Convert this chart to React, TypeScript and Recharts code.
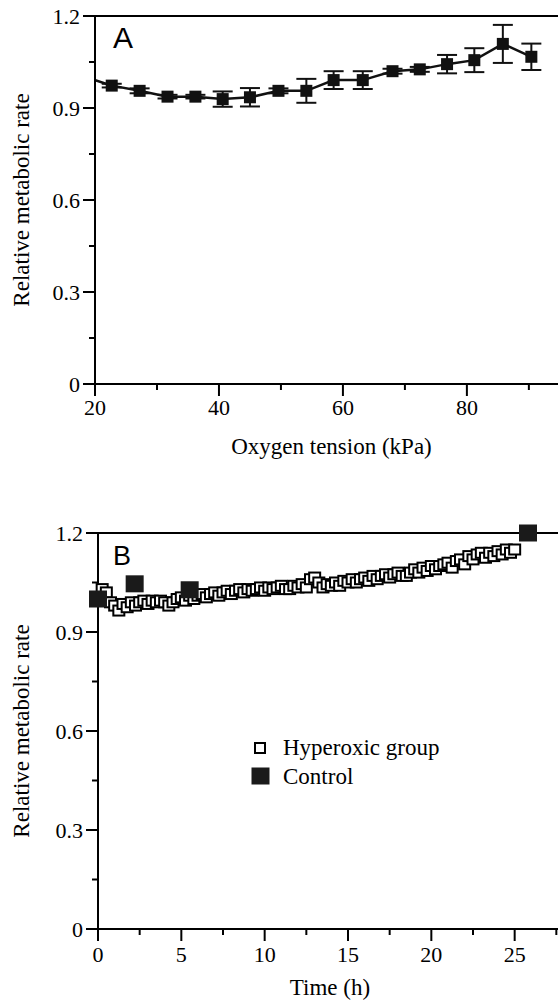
import {
  ComposedChart,
  ErrorBar,
  Legend,
  Line,
  ReferenceLine,
  Scatter,
  ScatterChart,
  XAxis,
  YAxis,
} from "recharts";

const serif = "Liberation Serif, Times New Roman, serif";
const sans = "Liberation Sans, Arial, sans-serif";

// Panel A: metabolic rate vs oxygen tension (first point lies left of the axis, clipped)
const oxygenKpa = [18.2, 22.7, 27.2, 31.7, 36.2, 40.6, 45.0, 49.6, 54.1, 58.5, 63.2, 68.0, 72.4, 76.8, 81.2, 85.8, 90.4];
const oxygenRate = [1.003, 0.973, 0.956, 0.937, 0.937, 0.929, 0.935, 0.956, 0.956, 0.991, 0.991, 1.02, 1.026, 1.043, 1.056, 1.109, 1.067];
const oxygenSem = [0, 0.006, 0.008, 0.006, 0.006, 0.025, 0.03, 0.008, 0.039, 0.029, 0.029, 0.008, 0.008, 0.03, 0.039, 0.062, 0.043];
const oxygenTicks = [20, 30, 40, 50, 60, 70, 80, 90];
const oxygenLabels = [20, 40, 60, 80];

// Panel B: metabolic rate vs time
const hyperHours = [
  0, 0.25, 0.5, 0.75, 1, 1.25, 1.5, 1.75, 2, 2.25, 2.5, 2.75, 3, 3.25, 3.5, 3.75, 4, 4.25, 4.5, 4.75,
  5, 5.25, 5.5, 5.75, 6, 6.25, 6.5, 6.75, 7, 7.25, 7.5, 7.75, 8, 8.25, 8.5, 8.75, 9, 9.25, 9.5, 9.75,
  10, 10.25, 10.5, 10.75, 11, 11.25, 11.5, 11.75, 12, 12.25, 12.5, 12.75, 13, 13.25, 13.5, 13.75, 14, 14.25, 14.5, 14.75,
  15, 15.25, 15.5, 15.75, 16, 16.25, 16.5, 16.75, 17, 17.25, 17.5, 17.75, 18, 18.25, 18.5, 18.75, 19, 19.25, 19.5, 19.75,
  20, 20.25, 20.5, 20.75, 21, 21.25, 21.5, 21.75, 22, 22.25, 22.5, 22.75, 23, 23.25, 23.5, 23.75, 24, 24.25, 24.5, 24.75, 25,
];
const hyperRate = [
  1.0, 1.03, 1.02, 0.99, 0.98, 0.965, 0.985, 0.975, 0.99, 0.98, 0.99, 0.995, 0.985, 0.995, 0.99, 0.995, 0.99, 0.98, 0.99, 1.0,
  1.005, 0.995, 1.01, 1.0, 1.01, 1.015, 1.005, 1.015, 1.02, 1.01, 1.02, 1.025, 1.015, 1.025, 1.03, 1.02, 1.03, 1.025, 1.03, 1.035,
  1.025, 1.035, 1.03, 1.035, 1.04, 1.03, 1.03, 1.04, 1.035, 1.045, 1.035, 1.06, 1.065, 1.05, 1.035, 1.045, 1.04, 1.05, 1.04, 1.055,
  1.05, 1.06, 1.05, 1.06, 1.065, 1.055, 1.07, 1.06, 1.07, 1.075, 1.065, 1.075, 1.08, 1.07, 1.07, 1.08, 1.09, 1.08, 1.095, 1.085,
  1.1, 1.09, 1.1, 1.105, 1.11, 1.095, 1.115, 1.12, 1.105, 1.13, 1.12, 1.135, 1.14, 1.125, 1.14, 1.13, 1.145, 1.135, 1.15, 1.14, 1.15,
];
const controlHours = [0, 2.2, 5.5, 25.8];
const controlRate = [1.0, 1.046, 1.028, 1.2];
const hoursTicks = [0, 2.5, 5, 7.5, 10, 12.5, 15, 17.5, 20, 22.5, 25, 27.5];
const hoursLabels = [0, 5, 10, 15, 20, 25];

const rateTicks = [0, 0.15, 0.3, 0.45, 0.6, 0.75, 0.9, 1.05, 1.2];
const rateLabels = [0, 0.3, 0.6, 0.9, 1.2];
const seriesNames = ["Hyperoxic group", "Control"];

const rowsA = oxygenKpa.map((kpa, i) => ({ kpa, rate: oxygenRate[i], sem: oxygenSem[i] }));
const hyperRows = hyperHours.map((t, i) => ({ t, rate: hyperRate[i] }));
const controlRows = controlHours.map((t, i) => ({ t, rate: controlRate[i] }));

const textStyle = { fontFamily: serif };

function BottomTick({ x, y, payload, labels, gap }: any) {
  const major = labels.includes(payload.value);
  return (
    <g>
      <line x1={x} x2={x} y1={y} y2={y + (major ? 12 : 6)} stroke="#000" strokeWidth={2} />
      {major ? (
        <text x={x} y={y + gap} textAnchor="middle" fontSize={22} style={textStyle} fill="#000">
          {payload.value}
        </text>
      ) : null}
    </g>
  );
}

function LeftTick({ x, y, payload }: any) {
  const major = rateLabels.includes(payload.value);
  return (
    <g>
      <line x1={x - (major ? 12 : 6)} x2={x} y1={y} y2={y} stroke="#000" strokeWidth={2} />
      {major ? (
        <text x={x - 15} y={y + 7.5} textAnchor="end" fontSize={22} style={textStyle} fill="#000">
          {payload.value}
        </text>
      ) : null}
    </g>
  );
}

const rateTitle = ({ viewBox }: any) => {
  const cy = viewBox.y + viewBox.height / 2;
  return (
    <text
      x={21}
      y={cy}
      transform={`rotate(-90, 21, ${cy})`}
      textAnchor="middle"
      dominantBaseline="central"
      fontSize={23}
      style={textStyle}
      fill="#000"
    >
      Relative metabolic rate
    </text>
  );
};

const axisLine = { stroke: "#000", strokeWidth: 2 };

function LegendBox() {
  return (
    <svg width={230} height={80} style={{ display: "block" }}>
      <rect x={5} y={13} width={10} height={10} fill="#fff" stroke="#000" strokeWidth={2} />
      <text x={33} y={25} fontSize={23} style={textStyle} fill="#000">
        {seriesNames[0]}
      </text>
      <rect x={1.5} y={37.5} width={18} height={17} fill="#1a1a1a" />
      <text x={33} y={54} fontSize={23} style={textStyle} fill="#000">
        {seriesNames[1]}
      </text>
    </svg>
  );
}

export default function App() {
  return (
    <div style={{ position: "absolute", left: 0, top: 0, width: 558, height: 1001, background: "#fff" }}>
      <ComposedChart width={558} height={470} data={rowsA} margin={{ top: 16, right: 0, bottom: 0, left: 0 }}>
        <XAxis
          type="number"
          dataKey="kpa"
          domain={[20, 94.7]}
          allowDataOverflow
          ticks={oxygenTicks}
          interval={0}
          tickLine={false}
          tickSize={0}
          tickMargin={0}
          axisLine={axisLine}
          height={86}
          tick={(p: any) => <BottomTick {...p} labels={oxygenLabels} gap={31} />}
          label={({ viewBox }: any) => (
            <text
              x={viewBox.x + viewBox.width / 2 + 5}
              y={454}
              textAnchor="middle"
              fontSize={23}
              style={textStyle}
              fill="#000"
            >
              Oxygen tension (kPa)
            </text>
          )}
        />
        <YAxis
          type="number"
          domain={[0, 1.2]}
          ticks={rateTicks}
          interval={0}
          tickLine={false}
          tickSize={0}
          tickMargin={0}
          axisLine={axisLine}
          width={95}
          tick={(p: any) => <LeftTick {...p} />}
          label={rateTitle}
        />
        <ReferenceLine y={1.2} stroke="#000" strokeWidth={2} />
        <Line
          type="linear"
          dataKey="rate"
          stroke="#111"
          strokeWidth={2.5}
          isAnimationActive={false}
          dot={(p: any) => (
            <rect key={`a${p.index}`} x={p.cx - 6} y={p.cy - 6} width={12} height={12} fill="#111" />
          )}
          activeDot={false}
        >
          <ErrorBar dataKey="sem" width={10} strokeWidth={2} stroke="#111" direction="y" />
        </Line>
        <text x={113} y={48} fontSize={30} style={{ fontFamily: sans }} fill="#000">
          A
        </text>
      </ComposedChart>

      <ScatterChart width={558} height={531} margin={{ top: 63, right: 0, bottom: 0, left: 0 }}>
        <XAxis
          type="number"
          dataKey="t"
          domain={[0, 27.6]}
          ticks={hoursTicks}
          interval={0}
          tickLine={false}
          tickSize={0}
          tickMargin={0}
          axisLine={axisLine}
          height={72}
          tick={(p: any) => <BottomTick {...p} labels={hoursLabels} gap={33} />}
          label={({ viewBox }: any) => (
            <text
              x={viewBox.x + viewBox.width / 2 + 2}
              y={525}
              textAnchor="middle"
              fontSize={23}
              style={textStyle}
              fill="#000"
            >
              Time (h)
            </text>
          )}
        />
        <YAxis
          type="number"
          dataKey="rate"
          domain={[0, 1.2]}
          ticks={rateTicks}
          interval={0}
          tickLine={false}
          tickSize={0}
          tickMargin={0}
          axisLine={axisLine}
          width={98}
          tick={(p: any) => <LeftTick {...p} />}
          label={rateTitle}
        />
        <ReferenceLine y={1.2} stroke="#000" strokeWidth={2} />
        <Scatter
          name={seriesNames[0]}
          data={hyperRows}
          isAnimationActive={false}
          shape={(p: any) => (
            <rect x={p.cx - 5.5} y={p.cy - 5} width={11} height={10} fill="#fff" stroke="#000" strokeWidth={2} />
          )}
        />
        <Scatter
          name={seriesNames[1]}
          data={controlRows}
          isAnimationActive={false}
          shape={(p: any) => <rect x={p.cx - 9} y={p.cy - 8.5} width={18} height={17} fill="#1a1a1a" />}
        />
        <Legend
          layout="vertical"
          align="center"
          verticalAlign="middle"
          wrapperStyle={{ left: 250, top: 260, width: 230, height: 80 }}
          content={() => <LegendBox />}
        />
        <text x={113} y={95} fontSize={27} style={{ fontFamily: sans }} fill="#000">
          B
        </text>
      </ScatterChart>
    </div>
  );
}
